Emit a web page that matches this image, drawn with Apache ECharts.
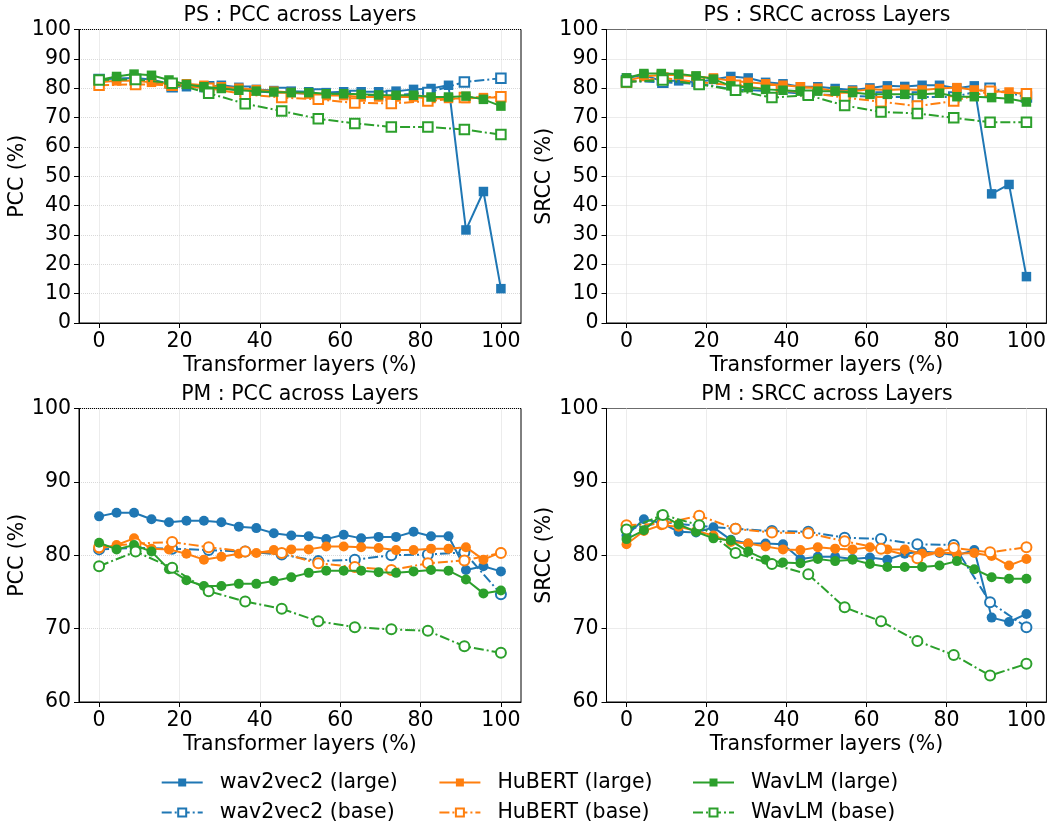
<!DOCTYPE html>
<html><head><meta charset="utf-8">
<script src="https://cdn.jsdelivr.net/npm/echarts@6/dist/echarts.min.js"></script>
<style>html,body{margin:0;padding:0;background:#fff}#c{width:1049px;height:824px}</style>
</head><body><div id="c"></div>
<script>
// ---- data ----
const xLarge = [0, 4.35, 8.70, 13.04, 17.39, 21.74, 26.09, 30.43, 34.78, 39.13, 43.48, 47.83, 52.17, 56.52, 60.87, 65.22, 69.57, 73.91, 78.26, 82.61, 86.96, 91.30, 95.65, 100];
const xBase = [0, 9.09, 18.18, 27.27, 36.36, 45.45, 54.55, 63.64, 72.73, 81.82, 90.91, 100];
const xTicks = [0, 20, 40, 60, 80, 100];
const seriesNames = ['wav2vec2 (large)', 'wav2vec2 (base)', 'HuBERT (large)', 'HuBERT (base)', 'WavLM (large)', 'WavLM (base)'];
const titles = ['PS : PCC across Layers', 'PS : SRCC across Layers', 'PM : PCC across Layers', 'PM : SRCC across Layers'];
const yNames = ['PCC (%)', 'SRCC (%)', 'PCC (%)', 'SRCC (%)'];
const xName = 'Transformer layers (%)';

// PS : PCC
const psPcc_w2vL = [83, 83.3, 83.5, 83, 81.5, 80.5, 80.2, 81, 80.3, 79.6, 79.2, 79, 78.8, 78.5, 78.8, 78.8, 78.8, 79, 79.6, 79.9, 81, 31.7, 44.8, 11.7];
const psPcc_w2vB = [83, 83, 80.5, 80.5, 79, 78.5, 78, 77.5, 77.5, 78.5, 82.1, 83.4];
const psPcc_hubL = [82, 82.5, 82.5, 82, 81.5, 81.5, 81, 80.5, 80, 79.5, 79, 78.5, 78, 77.5, 77.5, 77, 77, 77, 77, 76.5, 76.5, 76.5, 76.8, 76.8];
const psPcc_hubB = [81, 81.3, 81, 80, 77.9, 76.8, 76.2, 75, 74.8, 75.6, 76.8, 77.1];
const psPcc_wlmL = [82.8, 84, 84.8, 84.4, 82.8, 81.3, 80.5, 79.9, 79.3, 79, 78.7, 78.5, 78.5, 78.1, 78.1, 77.9, 77.7, 77.6, 77.6, 77, 77, 77.3, 76.2, 73.9];
const psPcc_wlmB = [82.8, 83, 81.7, 78.3, 74.7, 72.2, 69.6, 68, 66.8, 66.8, 65.9, 64.2];

// PS : SRCC
const psSrcc_w2vL = [83.5, 84.5, 82.5, 82.5, 82, 83, 84, 83.5, 82, 81.5, 80.5, 80.5, 79.9, 79.4, 80.1, 80.8, 80.6, 81, 81, 80, 80.8, 44, 47.2, 15.8];
const psSrcc_w2vB = [82.5, 82, 81.5, 79.5, 79, 78, 77.5, 77, 77, 77, 80, 77];
const psSrcc_hubL = [82.5, 84, 84.5, 84.5, 84, 83.5, 82.5, 82, 81.5, 81, 80.5, 80, 79, 79, 79.6, 79.4, 79.6, 79.4, 79.9, 80.2, 79.4, 79, 78.7, 77.9];
const psSrcc_hubB = [82, 83.5, 82, 81, 79.5, 78.5, 76.8, 75.4, 73.9, 75.6, 79, 78.1];
const psSrcc_wlmL = [83.5, 85, 85, 84.8, 84.2, 83.1, 80.8, 80.2, 79.6, 79.3, 79, 79, 79, 78.5, 77.9, 77.9, 77.9, 77.9, 78.3, 77.1, 77.1, 76.8, 76.4, 75.3];
const psSrcc_wlmB = [82.1, 82.8, 81.3, 79.3, 76.8, 77.6, 74.1, 71.9, 71.4, 69.9, 68.4, 68.4];

// PM : PCC
const pmPcc_w2vL = [85.3, 85.8, 85.8, 84.9, 84.5, 84.7, 84.7, 84.5, 83.9, 83.7, 83, 82.7, 82.6, 82.2, 82.8, 82.3, 82.5, 82.5, 83.2, 82.6, 82.6, 78, 78.5, 77.8];
const pmPcc_w2vB = [80.8, 81, 80.9, 80.7, 80.5, 80.1, 79.2, 79.4, 80, 80.1, 80.4, 74.7];
const pmPcc_hubL = [80.9, 81.4, 82.3, 80.9, 80.8, 80.2, 79.4, 79.8, 80.2, 80.3, 80.7, 80.8, 80.8, 81.2, 81.2, 81.1, 81, 80.7, 80.7, 80.9, 80.9, 81.1, 79.4, 80.4];
const pmPcc_hubB = [81.1, 81.6, 81.8, 81.1, 80.5, 80.3, 78.9, 78.4, 78, 78.9, 79.3, 80.3];
const pmPcc_wlmL = [81.7, 80.8, 81.4, 80.5, 78.1, 76.6, 75.8, 75.8, 76.1, 76.1, 76.5, 77, 77.6, 77.9, 77.9, 77.9, 77.7, 77.6, 77.8, 78, 77.9, 76.7, 74.8, 75.2];
const pmPcc_wlmB = [78.5, 80.5, 78.3, 75.1, 73.7, 72.7, 71, 70.2, 69.9, 69.7, 67.6, 66.7];

// PM : SRCC
const pmSrcc_w2vL = [82.7, 84.9, 84.4, 83.2, 83.1, 83.8, 82.1, 81.6, 81.6, 81.5, 79.5, 79.8, 79.8, 79.5, 79.7, 79.4, 80.2, 80.5, 80.3, 80, 80.7, 71.5, 70.9, 72];
const pmSrcc_w2vB = [83.5, 84.5, 84, 83.6, 83.3, 83.2, 82.4, 82.2, 81.5, 81.4, 73.6, 70.2];
const pmSrcc_hubL = [81.5, 83.3, 84.1, 83.9, 83.3, 82.7, 81.8, 81.6, 81.2, 80.8, 80.7, 81.1, 80.9, 80.8, 81.1, 80.8, 80.8, 80.2, 80.4, 80.2, 80.3, 79.9, 78.6, 79.5];
const pmSrcc_hubB = [84.1, 84.3, 85.4, 83.6, 83.1, 83, 81.9, 80.9, 79.6, 81, 80.4, 81.1];
const pmSrcc_wlmL = [82.2, 83.4, 85.5, 84.2, 83.2, 82.3, 82, 80.5, 79.4, 79, 78.9, 79.5, 79.2, 79.4, 78.8, 78.4, 78.4, 78.4, 78.6, 79.2, 78.1, 77, 76.8, 76.8];
const pmSrcc_wlmB = [83.5, 85.5, 84.1, 80.3, 78.8, 77.4, 72.9, 71, 68.3, 66.4, 63.6, 65.2];

const panels = [
  [psPcc_w2vL, psPcc_w2vB, psPcc_hubL, psPcc_hubB, psPcc_wlmL, psPcc_wlmB],
  [psSrcc_w2vL, psSrcc_w2vB, psSrcc_hubL, psSrcc_hubB, psSrcc_wlmL, psSrcc_wlmB],
  [pmPcc_w2vL, pmPcc_w2vB, pmPcc_hubL, pmPcc_hubB, pmPcc_wlmL, pmPcc_wlmB],
  [pmSrcc_w2vL, pmSrcc_w2vB, pmSrcc_hubL, pmSrcc_hubB, pmSrcc_wlmL, pmSrcc_wlmB]
];

// ---- style / layout ----
const FONT = 'DejaVu Sans';
const FS = 20.5;
const colors = ['#1f77b4', '#1f77b4', '#ff7f0e', '#ff7f0e', '#2ca02c', '#2ca02c'];
const isBase = [false, true, false, true, false, true];
const dashDot = [10, 3, 2, 3];
const grids = [
  {left: 79, top: 29.5, width: 442, height: 293.5},
  {left: 606.5, top: 29.5, width: 441, height: 293.5},
  {left: 79, top: 408.5, width: 442, height: 293.5},
  {left: 606.5, top: 408.5, width: 441, height: 293.5}
];
const yRanges = [[0, 100], [0, 100], [60, 100], [60, 100]];

const option = {
  animation: false,
  backgroundColor: '#fff',
  textStyle: {fontFamily: FONT},
  title: grids.map((g, i) => ({
    text: titles[i], left: g.left + g.width / 2, top: g.top - 24, textAlign: 'center',
    padding: 0,
    textStyle: {fontSize: FS, fontWeight: 'normal', color: '#000', fontFamily: FONT}
  })),
  grid: grids.map(g => Object.assign({show: true, borderColor: '#000', borderWidth: 1, containLabel: false, backgroundColor: 'transparent'}, g)),
  xAxis: grids.map((g, i) => ({
    gridIndex: i, type: 'value', min: -5, max: 105,
    name: xName, nameLocation: 'middle', nameGap: 32,
    nameTextStyle: {fontSize: FS, color: '#000', fontFamily: FONT},
    axisLine: {show: true, onZero: false, lineStyle: {color: '#000', width: 1}},
    axisTick: {show: true, length: 5, lineStyle: {color: '#000'}, customValues: xTicks},
    axisLabel: {fontSize: FS, color: '#000', margin: 8, fontFamily: FONT, customValues: xTicks},
    splitLine: {show: true, lineStyle: {type: 'dotted', color: '#d9d9d9', width: 1}}
  })),
  yAxis: grids.map((g, i) => ({
    gridIndex: i, type: 'value', min: yRanges[i][0], max: yRanges[i][1], interval: 10,
    name: yNames[i], nameLocation: 'middle', nameGap: 49,
    nameTextStyle: {fontSize: FS, color: '#000', fontFamily: FONT},
    axisLine: {show: true, onZero: false, lineStyle: {color: '#000', width: 1}},
    axisTick: {show: true, length: 5, lineStyle: {color: '#000'}},
    axisLabel: {fontSize: FS, color: '#000', margin: 8, fontFamily: FONT},
    splitLine: {show: true, lineStyle: {type: 'dotted', color: '#d9d9d9', width: 1}}
  })),
  legend: seriesNames.map((n, k) => {
    const col = Math.floor(k / 2), row = k % 2;
    const lefts = [160.7, 438.4, 692];
    return {
      data: [n], left: lefts[col], top: row === 0 ? 772 : 802,
      itemWidth: 41, itemHeight: 10, itemGap: 0, padding: 0,
      textStyle: {fontSize: FS, color: '#000', fontFamily: FONT, padding: [0, 0, 0, 12]},
      selectedMode: false
    };
  }),
  series: []
};

panels.forEach((vals, p) => {
  const circle = p >= 2;
  vals.forEach((ys, k) => {
    const xs = isBase[k] ? xBase : xLarge;
    option.series.push({
      type: 'line', name: seriesNames[k], xAxisIndex: p, yAxisIndex: p,
      data: ys.map((y, j) => [xs[j], y]),
      symbol: isBase[k] ? (circle ? 'emptyCircle' : 'emptyRect') : (circle ? 'circle' : 'rect'),
      symbolSize: circle ? 10 : 9.5,
      showSymbol: true,
      lineStyle: {color: colors[k], width: 2, type: isBase[k] ? dashDot : 'solid'},
      itemStyle: isBase[k] ? {color: colors[k], borderColor: colors[k], borderWidth: 1.5} : {color: colors[k]},
      emphasis: {disabled: true},
      z: 2 + k
    });
  });
});

const chart = echarts.init(document.getElementById('c'), null, {renderer: 'canvas'});
chart.setOption(option);
</script></body></html>
